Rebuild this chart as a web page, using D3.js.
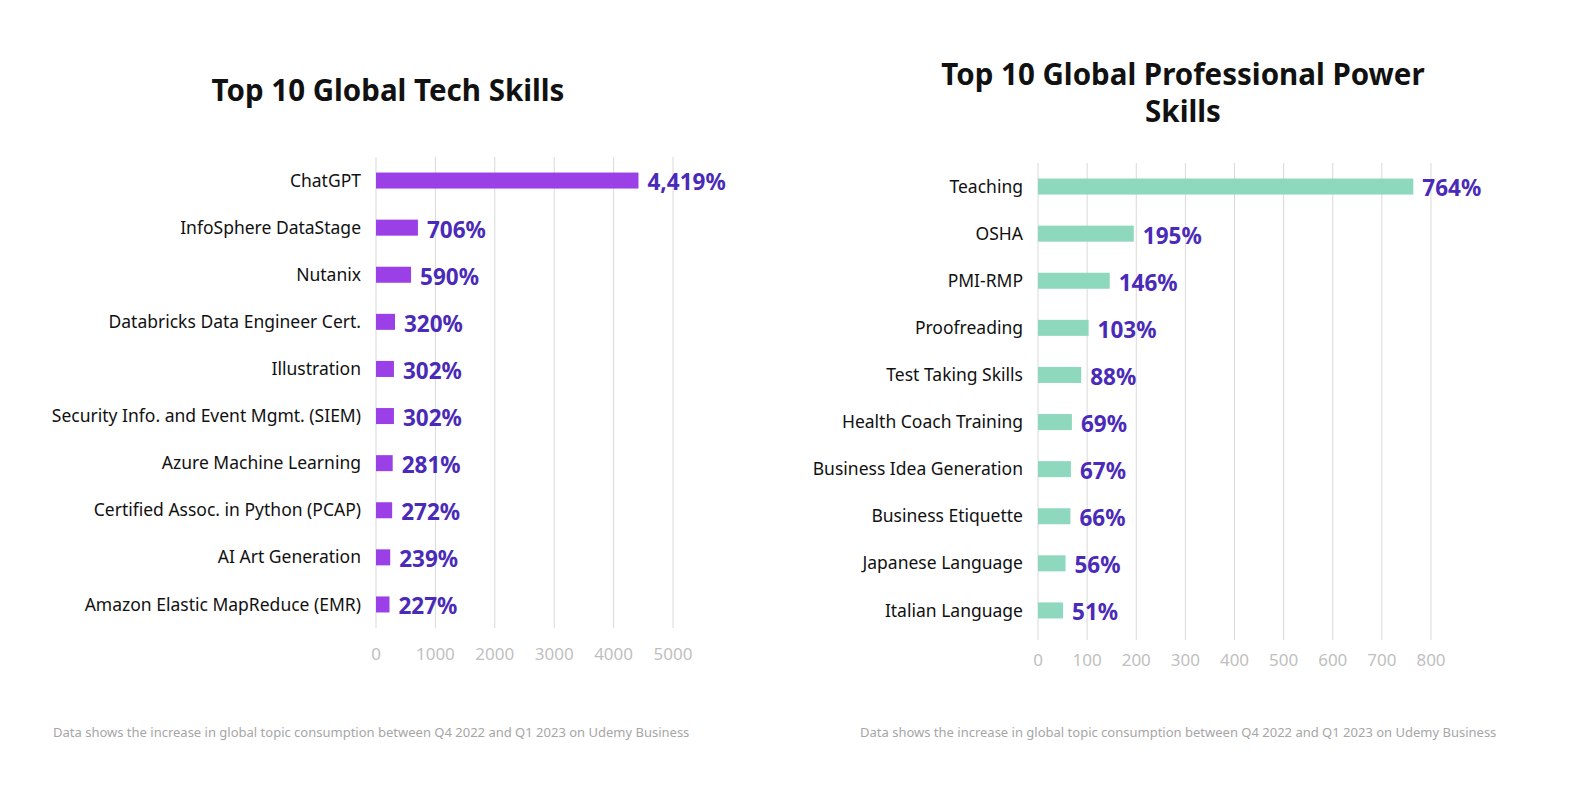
<!DOCTYPE html><html><head><meta charset="utf-8"><script src="https://cdn.jsdelivr.net/npm/d3@7"></script>
<style>body{margin:0;background:#fff;font-family:"Noto Sans",sans-serif}</style></head><body><svg id="c" width="1594" height="808"></svg><script>
const techSkills=["ChatGPT","InfoSphere DataStage","Nutanix","Databricks Data Engineer Cert.","Illustration","Security Info. and Event Mgmt. (SIEM)","Azure Machine Learning","Certified Assoc. in Python (PCAP)","AI Art Generation","Amazon Elastic MapReduce (EMR)"];
const techValues=[4419,706,590,320,302,302,281,272,239,227];
const techTicks=[0,1000,2000,3000,4000,5000];
const powerSkills=["Teaching","OSHA","PMI-RMP","Proofreading","Test Taking Skills","Health Coach Training","Business Idea Generation","Business Etiquette","Japanese Language","Italian Language"];
const powerValues=[764,195,146,103,88,69,67,66,56,51];
const powerTicks=[0,100,200,300,400,500,600,700,800];
const note="Data shows the increase in global topic consumption between Q4 2022 and Q1 2023 on Udemy Business";
const svg=d3.select("#c");
function chart(o){
  const g=svg.append("g");
  const x=d3.scaleLinear().domain([0,o.max]).range([o.x0,o.x1]);
  const y=d3.scaleBand().domain(o.cats).range([o.yTop,o.yBot]).paddingInner(0.66).paddingOuter(0.33);
  g.selectAll(".gl").data(o.ticks).join("line").attr("x1",d=>x(d)).attr("x2",d=>x(d))
   .attr("y1",o.gTop).attr("y2",o.gBot).attr("stroke","#d9d9d9").attr("stroke-width",1);
  g.selectAll(".tk").data(o.ticks).join("text").attr("x",d=>x(d)).attr("y",o.tickY).attr("text-anchor","middle")
   .attr("fill","#bfbfbf").attr("font-size",17).text(d=>d);
  g.selectAll(".b").data(o.vals).join("rect").attr("x",x(0)).attr("y",(d,i)=>y(o.cats[i]))
   .attr("width",d=>x(d)-x(0)).attr("height",y.bandwidth()).attr("fill",o.color);
  g.selectAll(".cl").data(o.cats).join("text").attr("x",x(0)-15).attr("y",d=>y(d)+y.bandwidth()/2).attr("dy","0.35em")
   .attr("text-anchor","end").attr("font-size",17.5).attr("fill","#111").text(d=>d);
  g.selectAll(".vl").data(o.vals).join("text").attr("x",d=>x(d)+9).attr("y",(d,i)=>y(o.cats[i])+y.bandwidth()/2+2).attr("dy","0.35em")
   .attr("font-size",22.5).attr("font-weight","bold").attr("fill","#4a2ab8").text(d=>d3.format(",")(d)+"%");
  o.title.forEach((t,i)=>g.append("text").attr("x",o.tx).attr("y",o.ty+i*37).attr("text-anchor","middle")
   .attr("font-size",29.5).attr("font-weight","bold").attr("fill","#111").text(t));
  g.append("text").attr("x",o.nx).attr("y",737).attr("font-size",13).attr("fill","#a6a6a6").text(note);
}
chart({cats:techSkills,vals:techValues,ticks:techTicks,max:5000,x0:376,x1:673,yTop:157,yBot:628,gTop:157,gBot:628,tickY:660,color:"#9b40e6",title:["Top 10 Global Tech Skills"],tx:388,ty:101,nx:53});
chart({cats:powerSkills,vals:powerValues,ticks:powerTicks,max:800,x0:1038,x1:1431,yTop:163,yBot:634,gTop:163,gBot:640,tickY:666,color:"#8ed8bd",title:["Top 10 Global Professional Power","Skills"],tx:1183,ty:85,nx:860});
</script></body></html>
